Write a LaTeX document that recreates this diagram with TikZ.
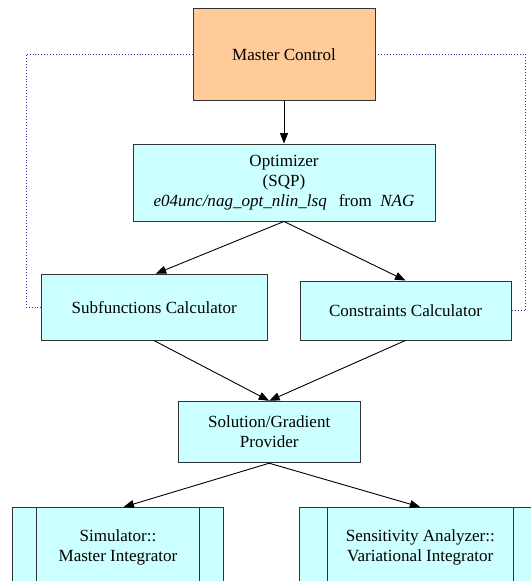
\documentclass[tikz,border=0pt]{standalone}
\usepackage{fontspec}
\setmainfont{Liberation Serif}
\newfontfamily\labelfont{Liberation Serif}
\usetikzlibrary{arrows.meta}
\definecolor{peach}{RGB}{255,203,153}
\definecolor{paleCyan}{RGB}{204,255,255}
\definecolor{linkBlue}{RGB}{55,55,170}
\begin{document}
\begin{tikzpicture}[x=1bp,y=-1bp,
  every node/.style={font=\labelfont\fontsize{17.1}{20}\selectfont, align=center, inner sep=0pt},
  blk/.style={draw=black!80, line width=0.9bp, fill=paleCyan, rectangle},
  ctrl/.style={blk, fill=peach},
  bar/.style={draw=black!80, line width=0.9bp},
  flow/.style={draw=black, line width=0.9bp, -{Triangle[length=10.5bp,width=8bp]}},
  link/.style={draw=linkBlue, line width=0.9bp, dotted}]
\useasboundingbox (0,0) rectangle (531,581);
\clip (0,0) rectangle (531,581);

% process blocks
\node[ctrl, minimum width=182bp, minimum height=92bp] (master) at (284,54.2) {Master Control};
\node[blk, minimum width=302bp, minimum height=77bp] (opt) at (284,182.5)
  {Optimizer\\(SQP)\\\textit{e04unc/nag\_opt\_nlin\_lsq}\hspace{12bp}from\hspace{8.5bp}\textit{NAG}};
\node[blk, minimum width=226bp, minimum height=66bp] (sub) at (154.2,307.2) {Subfunctions Calculator};
\node[blk, minimum width=211bp, minimum height=59bp] (con) at (405.5,310.5) {Constraints Calculator};
\node[blk, minimum width=181.5bp, minimum height=61.5bp] (sol) at (269.2,432) {Solution/Gradient\\Provider};
\node[blk, minimum width=211bp, minimum height=80bp] (sim) at (118,547.5) {Simulator::\\Master Integrator};
\node[blk, minimum width=241.3bp, minimum height=80bp] (sens) at (420.3,547.5) {Sensitivity Analyzer::\\Variational Integrator};

% side bars of the integrator blocks
\draw[bar] ([xshift=24.1bp]sim.north west) -- ([xshift=24.1bp]sim.south west);
\draw[bar] ([xshift=-24.5bp]sim.north east) -- ([xshift=-24.5bp]sim.south east);
\draw[bar] ([xshift=28.1bp]sens.north west) -- ([xshift=28.1bp]sens.south west);
\draw[bar] ([xshift=-28bp]sens.north east) -- ([xshift=-28bp]sens.south east);

% control links from the master
\coordinate (lcorner) at (26,54.2);
\coordinate (rcorner) at (525.7,54.2);
\draw[link] (master.west) -- (lcorner) |- (sub.west);
\draw[link] (master.east) -- (rcorner) |- (con.east);

% data flow
\draw[flow] (master.south) -- (opt.north);
\draw[flow] (opt.south) -- ([xshift=1.5bp]sub.north);
\draw[flow] (opt.south) -- (con.north);
\draw[flow] (sub.south) -- (sol.north);
\draw[flow] (con.south) -- (sol.north);
\draw[flow] (sol.south) -- ([xshift=5.5bp]sim.north);
\draw[flow] (sol.south) -- (sens.north);
\end{tikzpicture}
\end{document}
